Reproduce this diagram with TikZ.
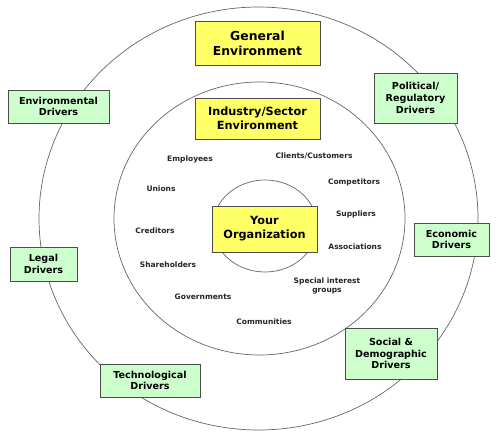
\documentclass[tikz,border=0pt]{standalone}
\usepackage{fontspec}
\setmainfont{DejaVu Sans}
\begin{document}
\begin{tikzpicture}[x=1pt,y=-1pt,
  ybox/.style={draw=black!70, line width=0.6pt, fill={rgb,255:red,255;green,255;blue,102}, align=center, font=\bfseries\fontsize{12.4}{15}\selectfont, inner sep=0pt},
  gbox/.style={draw=black!70, line width=0.6pt, fill={rgb,255:red,204;green,255;blue,204}, align=center, font=\bfseries\fontsize{9.6}{11.8}\selectfont, inner sep=0pt},
  lab/.style={align=center, font=\bfseries\fontsize{7.5}{9.5}\selectfont, text=black!85, inner sep=0pt},
  ring/.style={draw=black!60, line width=0.7pt}]
\useasboundingbox (0,0) rectangle (500,438);
\fill[white] (0,0) rectangle (500,438);
% rings
\draw[ring] (258.5,218.5) ellipse [x radius=219.5, y radius=211.5];
\draw[ring] (259.5,218.5) ellipse [x radius=145.5, y radius=136.5];
\draw[ring] (265,226) ellipse [x radius=52, y radius=46];
% yellow boxes
\node[ybox, minimum width=125, minimum height=44] (gen) at (257.5,43) {General\\Environment};
\node[ybox, minimum width=125, minimum height=41, font=\bfseries\fontsize{11.3}{14}\selectfont] (ind) at (257.5,118.5) {Industry/Sector\\Environment};
\node[ybox, minimum width=105, minimum height=46, font=\bfseries\fontsize{11.3}{14}\selectfont] (org) at (264.5,229) {Your\\Organization};
% green boxes
\node[gbox, minimum width=101, minimum height=33] (envd) at (58.5,106.5) {Environmental\\Drivers};
\node[gbox, minimum width=83, minimum height=50] (pold) at (415.5,98) {Political/\\Regulatory\\Drivers};
\node[gbox, minimum width=75, minimum height=33] (ecod) at (451.5,239.5) {Economic\\Drivers};
\node[gbox, minimum width=92, minimum height=51] (socd) at (391,353.5) {Social \&\\Demographic\\Drivers};
\node[gbox, minimum width=100, minimum height=33] (tecd) at (150,380.5) {Technological\\Drivers};
\node[gbox, minimum width=67, minimum height=34] (legd) at (43.5,264) {Legal\\Drivers};
% stakeholder labels
\node[lab] (emp) at (190,159) {Employees};
\node[lab] (uni) at (161,189) {Unions};
\node[lab] (cre) at (155,231) {Creditors};
\node[lab] (sha) at (168,265) {Shareholders};
\node[lab] (gov) at (203,297) {Governments};
\node[lab] (com) at (264,322) {Communities};
\node[lab] (cli) at (314,156) {Clients/Customers};
\node[lab] (cmp) at (354,182) {Competitors};
\node[lab] (sup) at (356,214) {Suppliers};
\node[lab] (ass) at (355,247) {Associations};
\node[lab] (spe) at (327,286) {Special interest\\groups};
\end{tikzpicture}
\end{document}
